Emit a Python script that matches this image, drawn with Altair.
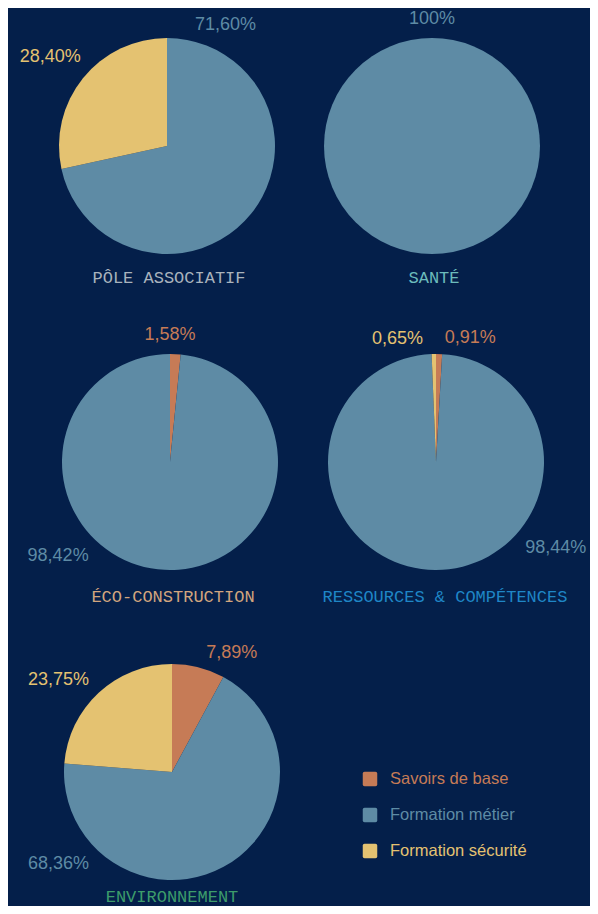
import math
import altair as alt
import pandas as pd

# ---- data ----
categories = ["Savoirs de base", "Formation métier", "Formation sécurité"]
poles = ["PÔLE ASSOCIATIF", "SANTÉ", "ÉCO-CONSTRUCTION",
         "RESSOURCES & COMPÉTENCES", "ENVIRONNEMENT"]
savoirs_de_base = [0.0, 0.0, 1.58, 0.91, 7.89]
formation_metier = [71.60, 100.0, 98.42, 98.44, 68.36]
formation_securite = [28.40, 0.0, 0.0, 0.65, 23.75]

# ---- styles / layout ----
slice_colors = ["#c67b56", "#5e8ba5", "#e4c271"]
title_colors = ["#a9b3bd", "#6cbcbc", "#d2a57e", "#1f86c6", "#3d9c6b"]
bg = "#041f4a"
label_angles = {  # label anchor direction, degrees clockwise from north
    (0, 1): 13, (0, 2): 316,
    (1, 1): 0,
    (2, 0): 0, (2, 1): 221,
    (3, 0): 4, (3, 1): 134, (3, 2): 354,
    (4, 0): 16, (4, 1): 222, (4, 2): 318,
}
pie_centers = [(159, 138), (424, 138), (162, 454), (428, 454), (164, 764)]
title_pos = [(161, 270), (426, 270), (165, 589), (437, 589), (164, 889)]
legend_x, legend_y = 362, [771, 843]
R = 108
W, H = 582, 898

rows = []
for i, p in enumerate(poles):
    vals = [savoirs_de_base[i], formation_metier[i], formation_securite[i]]
    for j, (c, v) in enumerate(zip(categories, vals)):
        if v <= 0:
            continue
        txt = "100%" if v == 100 else f"{v:.2f}".replace(".", ",") + "%"
        a = label_angles[(i, j)]
        side = "center" if a == 0 else ("left" if a < 180 else "right")
        rows.append(dict(pole=p, category=c, ord=j, value=v, label=txt,
                         angle=a, side=side))
df = pd.DataFrame(rows)

rounded_square = ("M -0.75,-1 L 0.75,-1 Q 1,-1 1,-0.75 L 1,0.75 Q 1,1 0.75,1 "
                  "L -0.75,1 Q -1,1 -1,0.75 L -1,-0.75 Q -1,-1 -0.75,-1 Z")

color_scale = alt.Scale(domain=categories, range=slice_colors)
color_enc = alt.Color("category:N", scale=color_scale, legend=None)

layers = []
for i, p in enumerate(poles):
    cx, cy = pie_centers[i]
    base = alt.Chart(df).transform_filter(alt.datum.pole == p)
    layers.append(base.mark_arc(outerRadius=R).encode(
        theta=alt.Theta("value:Q", stack=True),
        color=color_enc,
        order=alt.Order("ord:Q"),
        x=alt.value(cx), y=alt.value(cy),
    ))
    for side, rad in [("left", 124), ("right", 124), ("center", 127)]:
        layers.append(base.transform_filter(alt.datum.side == side).mark_text(
            align=side, baseline="middle", radius=rad,
            font="Liberation Sans", fontSize=18,
        ).encode(
            theta=alt.Theta("angle:Q", stack=None,
                            scale=alt.Scale(domain=[0, 360], range=[0, 2 * math.pi])),
            text="label:N",
            color=color_enc,
            x=alt.value(cx), y=alt.value(cy),
        ))
    tx, ty = title_pos[i]
    layers.append(alt.Chart(pd.DataFrame({"t": [p]})).mark_text(
        font="Liberation Mono", fontSize=17, color=title_colors[i],
        baseline="middle", align="center",
    ).encode(text="t:N", x=alt.value(tx), y=alt.value(ty)))

# legend drawn from the category list
legend_df = pd.DataFrame({"category": categories})
ly = alt.Y("category:N", axis=None,
           scale=alt.Scale(type="point", domain=categories, range=legend_y,
                           padding=0))
layers.append(alt.Chart(legend_df).mark_point(
    shape=rounded_square, filled=True, size=210, opacity=1, strokeWidth=0
).encode(y=ly, x=alt.value(legend_x), color=color_enc))
layers.append(alt.Chart(legend_df).mark_text(
    align="left", baseline="middle", font="Liberation Sans", fontSize=16.5
).encode(y=ly, x=alt.value(legend_x + 20), text="category:N", color=color_enc))

chart = alt.layer(*layers).resolve_scale(theta="independent").properties(
    width=W, height=H, padding=0, background=bg
).configure_view(stroke=None)

chart.save("out.html", embed_options={"renderer": "svg", "actions": False})
